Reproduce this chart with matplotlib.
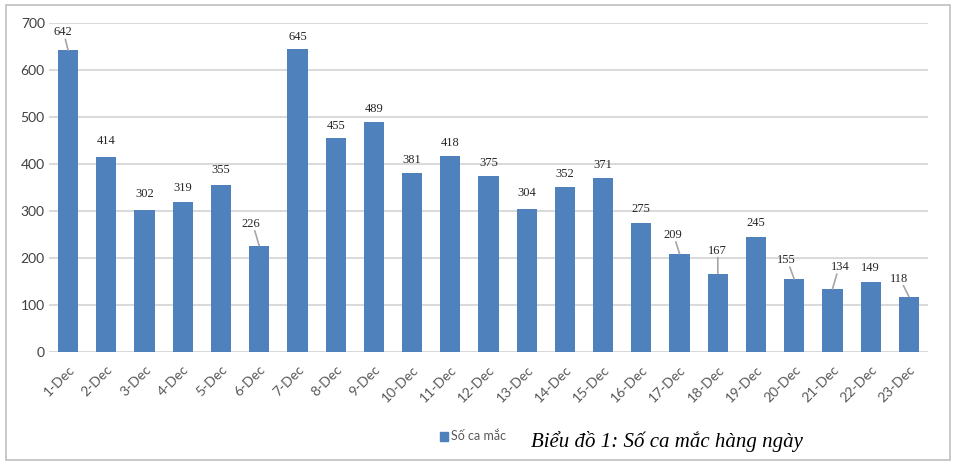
import matplotlib

matplotlib.use("Agg")

import matplotlib.pyplot as plt
from matplotlib.patches import Rectangle

days = [f"{d}-Dec" for d in range(1, 24)]
cases = [642, 414, 302, 319, 355, 226, 645, 455, 489, 381, 418, 375,
         304, 352, 371, 275, 209, 167, 245, 155, 134, 149, 118]
y_ticks = [0, 100, 200, 300, 400, 500, 600, 700]

# label offsets in pixels (dx, dy) and whether a leader line is drawn
label_offsets = [(-5, 18), (0, 16), (0, 16), (0, 14), (0, 15), (-8, 22),
                 (0, 12), (0, 12), (0, 13), (0, 13), (0, 13), (0, 13),
                 (0, 16), (0, 13), (0, 13), (0, 14), (-7, 19), (0, 23),
                 (0, 14), (-8, 19), (8, 22), (0, 14), (-10, 18)]
leaders = {0, 5, 16, 17, 19, 20, 22}

BAR = "#4F81BD"
GRID = "#D9D9D9"

fig = plt.figure(figsize=(9.56, 4.66), dpi=100)
ax = fig.add_axes([49 / 956, 114 / 466, 879 / 956, 329 / 466])

x = list(range(len(days)))
ax.bar(x, cases, width=0.53, color=BAR, zorder=3)

ax.set_xlim(-0.5, len(days) - 0.5)
ax.set_ylim(0, 700)
ax.set_yticks(y_ticks)
ax.grid(axis="y", color=GRID, linewidth=1.4, zorder=0)
ax.set_axisbelow(True)
for side in ["top", "right", "left", "bottom"]:
    ax.spines[side].set_visible(False)
ax.axhline(0, color=GRID, linewidth=1.4, zorder=1)

ax.set_xticks(x)
ax.set_xticklabels(days, rotation=45, ha="right", rotation_mode="anchor",
                   family="Lato", fontsize=10, color="#595959")
ax.tick_params(axis="both", length=0)
ax.tick_params(axis="x", pad=8)
ax.tick_params(axis="y", pad=3)
for lbl in ax.get_yticklabels():
    lbl.set_family("Lato")
    lbl.set_fontsize(10)
    lbl.set_color("#404040")

for i, v in enumerate(cases):
    dx, dy = label_offsets[i]
    ax.annotate(str(v), xy=(i, v), xytext=(dx, dy),
                textcoords="offset pixels", ha="center", va="center",
                family="Liberation Serif", fontsize=9, color="#262626",
                zorder=4)
    if i in leaders:
        ax.annotate("", xy=(i, v), xytext=(dx * 0.55, dy - 7),
                    textcoords="offset pixels",
                    arrowprops=dict(arrowstyle="-", color="#A6A6A6",
                                    linewidth=1.2, shrinkA=0, shrinkB=0),
                    zorder=4)

# legend and caption
fig.patches.append(Rectangle((440 / 956, 1 - 441 / 466), 8 / 956, 9 / 466,
                             transform=fig.transFigure, color=BAR))
fig.text(451 / 956, 1 - 436 / 466, "Số ca mắc", family="Lato", fontsize=9,
         color="#595959", va="center", ha="left")
fig.text(531 / 956, 1 - 441 / 466, "Biểu đồ 1: Số ca mắc hàng ngày",
         family="Liberation Serif", style="italic", fontsize=15,
         color="black", va="center", ha="left")

# chart frame
fig.patches.append(Rectangle((6 / 956, 1 - 460 / 466), 944 / 956, 455 / 466,
                             transform=fig.transFigure, fill=False,
                             edgecolor="#BFBFBF", linewidth=1.2))

fig.savefig("out.png", dpi=100)
